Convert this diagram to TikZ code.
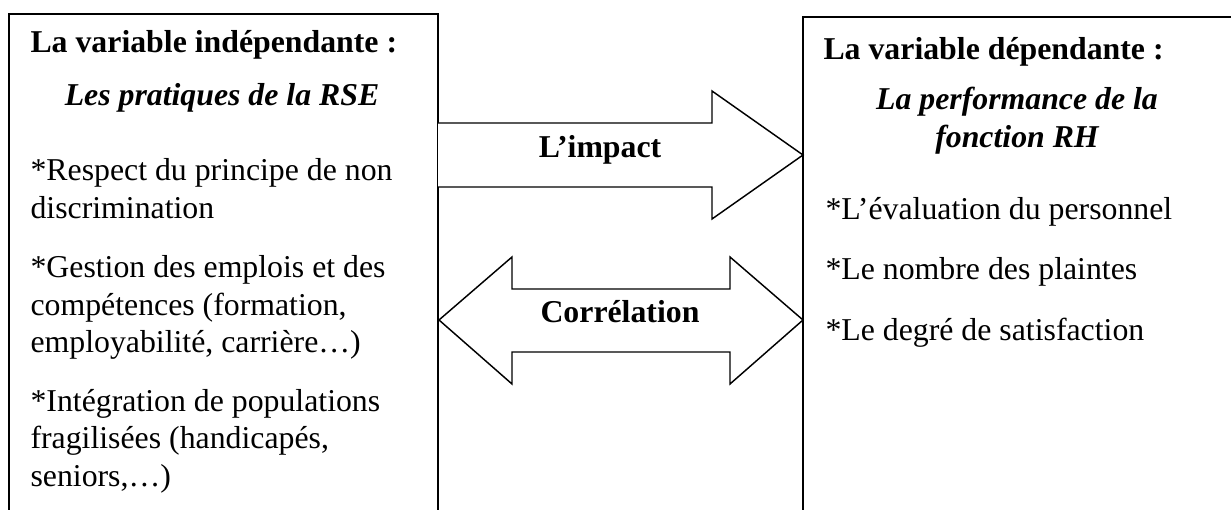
\documentclass[tikz,border=0pt]{standalone}
\usepackage{fontspec}
\setmainfont{Liberation Serif}
\begin{document}
\begin{tikzpicture}[x=0.3774pt,y=-0.3774pt,
  boxline/.style={draw=black,line width=0.75pt},
  blockarrow/.style={draw=black,line width=0.55pt,line join=miter,fill=white},
  txt/.style={inner sep=0pt,font=\fontsize{12}{14.34}\selectfont,align=left},
  headtxt/.style={inner sep=0pt,font=\fontsize{12}{14.34}\selectfont\bfseries},
  subtxt/.style={inner sep=0pt,font=\fontsize{12}{14.34}\selectfont\bfseries\itshape,align=center},
  lbl/.style={inner sep=0pt,font=\fontsize{12}{14.34}\selectfont\bfseries}]
\useasboundingbox (0,0) rectangle (1231,510);
\clip (0,0) rectangle (1231,510);

% the two variable boxes (they run past the lower and right edges)
\coordinate (Lnw) at (9,14);
\coordinate (Lse) at (438,540);
\coordinate (Rnw) at (803,17);
\coordinate (Rse) at (1250,540);
\draw[boxline] (Lnw) rectangle (Lse);
\draw[boxline] (Rnw) rectangle (Rse);

% one-way block arrow: L'impact
\coordinate (ia) at (438,123);
\coordinate (ib) at (438,187);
\coordinate (itip) at (803,155);
\draw[blockarrow] (ia) -- (712,123) -- (712,91) -- (itip) -- (712,219) -- (712,187) -- (ib);
\node[lbl,anchor=base] (impact) at (600,158) {L’impact};

% two-way block arrow: Corrélation
\coordinate (cl) at (439,320);
\coordinate (cr) at (803,320);
\draw[blockarrow] (cl) -- (512,257) -- (512,289) -- (730,289) -- (730,257) -- (cr)
  -- (730,384) -- (730,352) -- (512,352) -- (512,384) -- cycle;
\node[lbl,anchor=base] (correl) at (620,323) {Corrélation};

% independent variable (multi-line nodes are placed by their last baseline)
\node[headtxt,anchor=base west] (lhead) at (30,53) {La variable indépendante :};
\node[subtxt,anchor=base] (lsub) at (222,106) {Les pratiques de la RSE};
\node[txt,anchor=base west] (l1) at (30,219) {*Respect du principe de non\\discrimination};
\node[txt,anchor=base west] (l2) at (30,353) {*Gestion des emplois et des\\compétences (formation,\\employabilité, carrière…)};
\node[txt,anchor=base west] (l3) at (30,487) {*Intégration de populations\\fragilisées (handicapés,\\seniors,…)};

% dependent variable
\node[headtxt,anchor=base west] (rhead) at (823,60) {La variable dépendante :};
\node[subtxt,anchor=base] (rsub) at (1017,148) {La performance de la\\fonction RH};
\node[txt,anchor=base west] (r1) at (825,220) {*L’évaluation du personnel};
\node[txt,anchor=base west] (r2) at (825,280) {*Le nombre des plaintes};
\node[txt,anchor=base west] (r3) at (825,341) {*Le degré de satisfaction};
\end{tikzpicture}
\end{document}
